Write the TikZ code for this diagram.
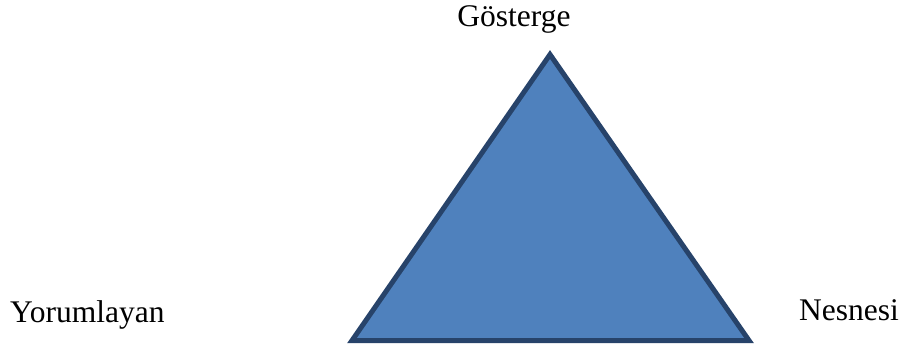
\documentclass[tikz,border=0pt]{standalone}
\usepackage{fontspec}
\setmainfont{Liberation Serif}
\definecolor{trifill}{HTML}{4F81BD}
\definecolor{triedge}{HTML}{27436A}
\begin{document}
\begin{tikzpicture}[x=1pt,y=1pt,
  lbl/.style={inner sep=0pt,anchor=base,font=\fontsize{31.5}{38}\selectfont},
  tri/.style={fill=trifill,draw=triedge,line width=5pt,line join=miter}]
\useasboundingbox (0,0) rectangle (901,345);
\coordinate (top) at (550,290.5);
\coordinate (bl) at (352,4.5);
\coordinate (br) at (749,4.5);
\draw[tri] (top) -- (br) -- (bl) -- cycle;
\node[lbl] (g) at (514,318) {Gösterge};
\node[lbl,anchor=base west] (y) at (10,23) {Yorumlayan};
\node[lbl,anchor=base west] (n) at (799,24) {Nesnesi};
\end{tikzpicture}
\end{document}
